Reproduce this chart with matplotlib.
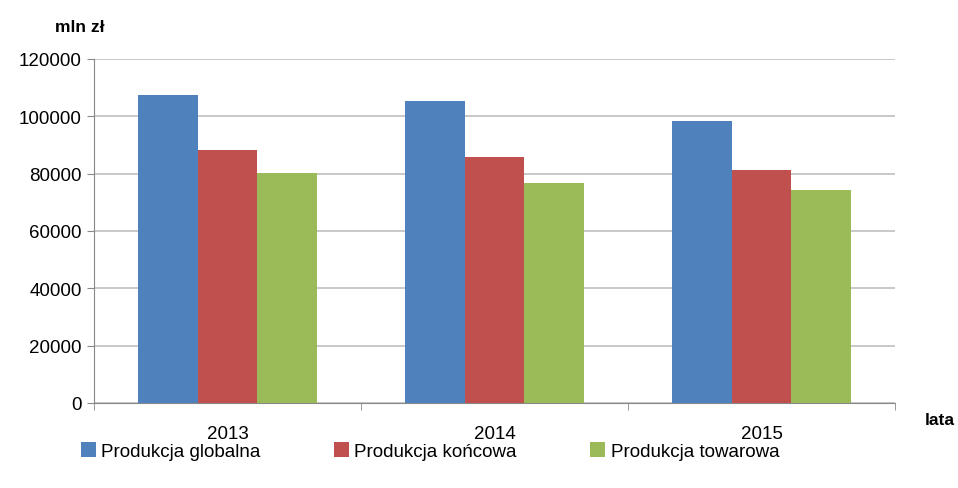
import matplotlib
matplotlib.use("Agg")
import matplotlib.pyplot as plt
from matplotlib.patches import Patch
import numpy as np

lata = ["2013", "2014", "2015"]
produkcja_globalna = [107400, 105300, 98500]
produkcja_koncowa = [88300, 85900, 81200]
produkcja_towarowa = [80100, 76700, 74200]
serie = ["Produkcja globalna", "Produkcja końcowa", "Produkcja towarowa"]
kolory = ["#4F81BD", "#C0504D", "#9BBB59"]

plt.rcParams['font.family'] = ['Liberation Sans', 'DejaVu Sans']

fig = plt.figure(figsize=(9.58, 4.89), dpi=100)
ax = fig.add_axes([94 / 958, 85 / 489, 801 / 958, 344 / 489])

x = np.arange(len(lata))
w = 0.223
for i, (vals, kolor) in enumerate(zip([produkcja_globalna, produkcja_koncowa, produkcja_towarowa], kolory)):
    ax.bar(x + (i - 1) * w, vals, width=w, color=kolor, zorder=3)

ax.set_xlim(-0.5, 2.5)
ax.set_ylim(0, 120000)
ax.set_yticks(range(0, 120001, 20000))
ax.set_yticklabels([str(v) for v in range(0, 120001, 20000)], fontsize=13.5)
ax.yaxis.grid(True, color="#bfbfbf", linewidth=1.2, zorder=0)

ax.set_xticks(x)
ax.set_xticklabels(lata, fontsize=13.5)
ax.set_xticks([-0.5, 0.5, 1.5, 2.5], minor=True)
ax.tick_params(axis='x', which='major', length=0, pad=16)
ax.tick_params(axis='x', which='minor', length=5, color="#888888")
ax.tick_params(axis='y', length=5, color="#888888", pad=4)

for s in ["top", "right"]:
    ax.spines[s].set_visible(False)
for s in ["left", "bottom"]:
    ax.spines[s].set_color("#888888")

fig.text(55 / 958, 1 - 28 / 489, "mln zł", fontsize=12.5, fontweight='bold', va='center')
fig.text(925 / 958, 1 - 421 / 489, "lata", fontsize=12.5, fontweight='bold', va='center')

uchwyty = [Patch(facecolor=k, label=s) for k, s in zip(kolory, serie)]
fig.legend(handles=uchwyty, loc='center', bbox_to_anchor=(430 / 958, 1 - 452 / 489),
           ncol=3, frameon=False, fontsize=13.5, handlelength=0.8, handleheight=0.8,
           handletextpad=0.3, columnspacing=3.9)

fig.savefig("out.png", dpi=100)
